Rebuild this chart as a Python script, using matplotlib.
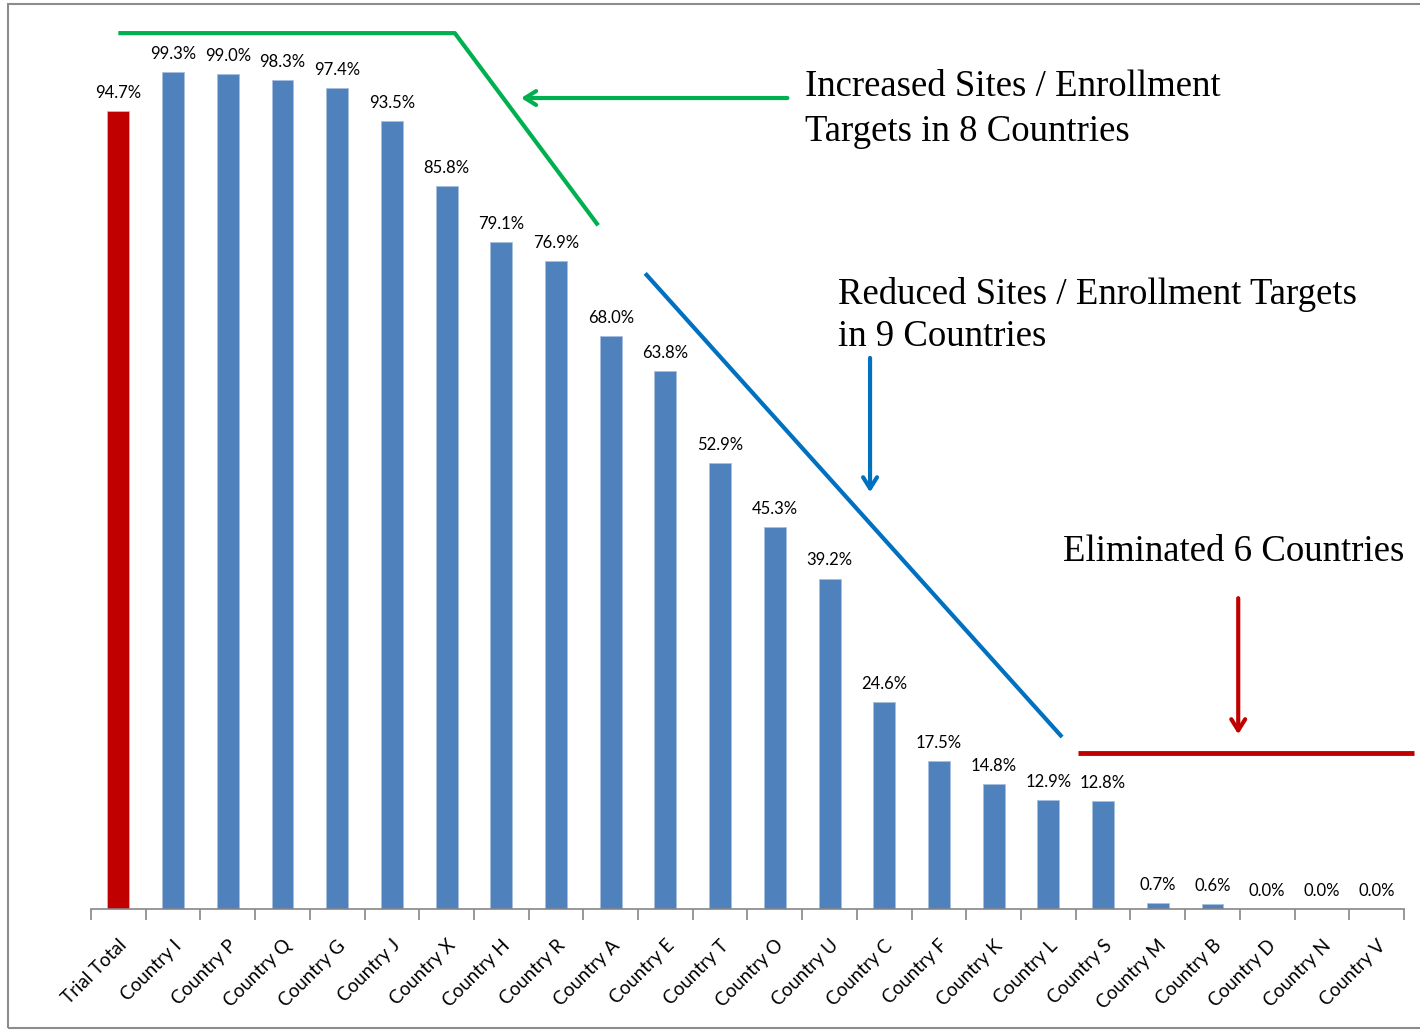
import numpy as np
import matplotlib.pyplot as plt
from matplotlib.patches import Rectangle

countries = ["Trial Total", "Country I", "Country P", "Country Q", "Country G", "Country J",
             "Country X", "Country H", "Country R", "Country A", "Country E", "Country T",
             "Country O", "Country U", "Country C", "Country F", "Country K", "Country L",
             "Country S", "Country M", "Country B", "Country D", "Country N", "Country V"]
pct = [94.7, 99.3, 99.0, 98.3, 97.4, 93.5, 85.8, 79.1, 76.9, 68.0, 63.8, 52.9,
       45.3, 39.2, 24.6, 17.5, 14.8, 12.9, 12.8, 0.7, 0.6, 0.0, 0.0, 0.0]

blue = "#4F81BD"
red = "#C00000"
serif = "Liberation Serif"

fig = plt.figure(figsize=(14.2, 10.3), dpi=100)
ax = fig.add_axes([91/1420, 1 - 909/1030, (1404 - 91)/1420, (909 - 8)/1030])

x = np.arange(len(countries))
colors = [red] + [blue] * (len(countries) - 1)
ax.bar(x, pct, width=0.4, color=colors, edgecolor="#A7C0DE", linewidth=0.6)
for xi, v in zip(x, pct):
    ax.text(xi, v + 1.2, f"{v:.1f}%", ha="center", va="bottom", fontsize=12, family="Lato")

ax.set_xlim(-0.5, len(countries) - 0.5)
ax.set_ylim(0, 901 / 8.43)
ax.set_yticks([])
for s in ["left", "top", "right"]:
    ax.spines[s].set_visible(False)
ax.spines["bottom"].set_color("#868686")
ax.spines["bottom"].set_linewidth(1.2)
ax.set_xticks(x)
ax.set_xticklabels(countries, rotation=45, ha="right", rotation_mode="anchor",
                   fontsize=13.5, family="Lato")
ax.tick_params(axis="x", which="major", length=0, pad=20)
ax.set_xticks(np.arange(-0.5, len(countries)), minor=True)
ax.tick_params(axis="x", which="minor", length=8, color="#868686", width=1.2)

# green: increased
ax.plot([0, 6.15, 8.77], [103.9, 103.9, 81.1], color="#00B050", lw=3, clip_on=False,
        solid_capstyle="butt")
ax.annotate("", xy=(7.31, 96.2), xytext=(12.28, 96.2),
            arrowprops=dict(arrowstyle="->,head_length=0.8,head_width=0.5",
                            color="#00B050", lw=3), annotation_clip=False)
ax.text(12.55, 99.6, "Increased Sites / Enrollment\nTargets in 8 Countries",
        family=serif, fontsize=26.5, va="top", ha="left", linespacing=1.4)

# blue: reduced
ax.plot([9.63, 17.25], [75.4, 20.4], color="#0070C0", lw=3, solid_capstyle="butt")
ax.annotate("", xy=(13.74, 49.1), xytext=(13.74, 65.7),
            arrowprops=dict(arrowstyle="->,head_length=0.8,head_width=0.5",
                            color="#0070C0", lw=3))
ax.text(13.15, 75.0, "Reduced Sites / Enrollment Targets\nin 9 Countries",
        family=serif, fontsize=26.5, va="top", ha="left", linespacing=1.3)

# red: eliminated
ax.plot([17.54, 23.69], [18.5, 18.5], color=red, lw=3.5, clip_on=False,
        solid_capstyle="butt")
ax.annotate("", xy=(20.47, 20.4), xytext=(20.47, 37.2),
            arrowprops=dict(arrowstyle="->,head_length=0.8,head_width=0.5",
                            color=red, lw=3))
ax.text(20.38, 41.3, "Eliminated 6 Countries", family=serif, fontsize=26.5,
        va="baseline", ha="center")

fig.patches.append(Rectangle((8/1420, 2/1030), 1.2, 1 - 6/1030,
                             transform=fig.transFigure, fill=False,
                             edgecolor="#8C8C8C", lw=1.5))

fig.savefig("out.png", dpi=100)
